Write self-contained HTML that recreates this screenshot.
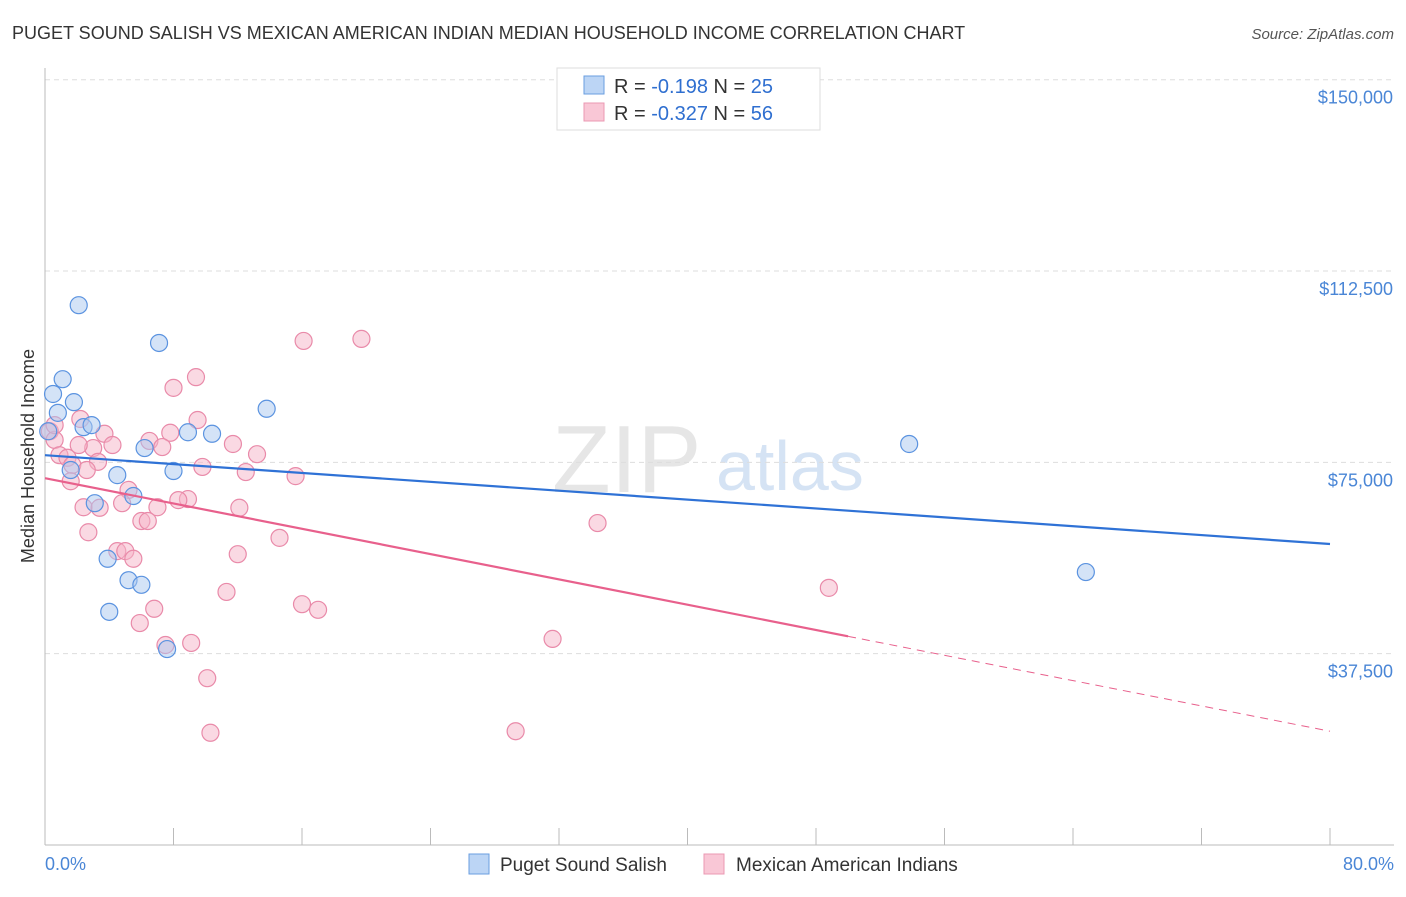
<!DOCTYPE html>
<html><head><meta charset="utf-8"><style>
body{margin:0;background:#fff;font-family:"Liberation Sans",sans-serif}
svg text{font-family:"Liberation Sans",sans-serif}
</style></head><body>
<svg id="chart" width="1406" height="892" xmlns="http://www.w3.org/2000/svg">
<text x="12" y="39" font-size="18" fill="#333">PUGET SOUND SALISH VS MEXICAN AMERICAN INDIAN MEDIAN HOUSEHOLD INCOME CORRELATION CHART</text>
<text x="1394" y="39" font-size="15" fill="#555" text-anchor="end" font-style="italic">Source: ZipAtlas.com</text>
<text x="552" y="492" font-size="96" fill="#e6e6e6" font-family="Liberation Serif">ZIP</text>
<text x="716" y="490" font-size="70" fill="#d5e3f4">atlas</text>
<g id="grid"></g>
<g id="axes"></g>
<g id="marks"></g>
<text transform="translate(34,456) rotate(-90)" font-size="18" fill="#333" text-anchor="middle">Median Household Income</text>
<text x="45" y="870" font-size="18" fill="#4a86d6">0.0%</text>
<text x="1394" y="870" font-size="18" fill="#4a86d6" text-anchor="end">80.0%</text>
<g>
<rect x="557" y="68" width="263" height="62" fill="#fff" stroke="#ddd"/>
<rect x="584" y="76" width="20" height="18" fill="#bcd5f5" stroke="#6a9ee0"/>
<rect x="584" y="103" width="20" height="18" fill="#f9c7d6" stroke="#eb98b3"/>
<text x="614" y="93" font-size="20" fill="#333">R = <tspan fill="#2f6fd0">-0.198</tspan>   N = <tspan fill="#2f6fd0">25</tspan></text>
<text x="614" y="120" font-size="20" fill="#333">R = <tspan fill="#2f6fd0">-0.327</tspan>   N = <tspan fill="#2f6fd0">56</tspan></text>
</g>
<g>
<rect x="469" y="854" width="20" height="20" fill="#bcd5f5" stroke="#6a9ee0"/>
<text x="500" y="871" font-size="19" fill="#333">Puget Sound Salish</text>
<rect x="704" y="854" width="20" height="20" fill="#f9c7d6" stroke="#eb98b3"/>
<text x="736" y="871" font-size="19" fill="#333">Mexican American Indians</text>
</g>
</svg>
<script>
const yTicks=[150000,112500,75000,37500];
const yTickLabels=["$150,000","$112,500","$75,000","$37,500"];
const blueX=[2.1,7.1,1.1,0.5,1.8,0.8,13.8,2.4,2.9,0.2,8.9,10.4,6.2,53.8,1.6,8.0,4.5,5.5,3.1,3.9,5.2,6.0,4.0,7.6,64.8];
const blueY=[105800,98400,91300,88400,86800,84700,85500,81900,82300,81100,80900,80600,77800,78600,73500,73300,72500,68400,67000,56100,51900,51000,45700,38400,53500];
const pinkX=[0.3,0.6,2.2,9.5,6.5,7.8,11.7,13.2,3.7,3.0,4.2,0.9,1.4,3.3,1.7,9.8,12.5,15.6,7.3,8.0,9.4,16.1,19.7,1.6,5.2,2.4,3.4,4.8,7.0,8.9,8.3,12.1,6.0,6.4,2.7,14.6,4.5,5.0,5.5,12.0,34.4,48.8,11.3,16.0,17.0,6.8,5.9,7.5,9.1,31.6,10.1,10.3,29.3,2.1,0.6,2.6];
const pinkY=[81100,79400,83500,83300,79200,80800,78600,76600,80600,77800,78400,76400,75900,75100,74500,74100,73100,72300,78000,89600,91700,98800,99200,71300,69600,66200,66100,67000,66200,67800,67600,66100,63500,63500,61300,60200,57600,57600,56100,57000,63100,50400,49600,47200,46100,46300,43500,39200,39600,40400,32700,22000,22300,78400,82300,73500];
const blueTrend=[76400,59000];
const pinkTrend=[71900,22300];
const pinkSolidEnd=50;
const NS="http://www.w3.org/2000/svg";
const X0=45,X1=1330,Y0=845;
function sx(v){return X0+(X1-X0)*v/80;}
function sy(v){return Y0-v*(845-79.7)/150000;}
function mk(t,a,p){const e=document.createElementNS(NS,t);for(const k in a)e.setAttribute(k,a[k]);p.appendChild(e);return e;}
const grid=document.getElementById('grid'),axes=document.getElementById('axes'),marks=document.getElementById('marks');
yTicks.forEach((t,i)=>{
  const l=mk('line',{x1:X0,x2:1394,y1:sy(t),y2:sy(t),stroke:'#ddd','stroke-dasharray':'5,4'},grid);
  
  
  const tx=mk('text',{x:1393,y:sy(t)+24,'font-size':18,fill:'#4a86d6','text-anchor':'end'},grid);
  tx.textContent=yTickLabels[i];
  
  
});
const ax=mk('line',{x1:X0,x2:X0,y1:68,y2:Y0,stroke:'#bbb'},axes);


const bx=mk('line',{x1:X0,x2:1394,y1:Y0,y2:Y0,stroke:'#bbb'},axes);


for(let v=0;v<=80;v+=8){
  const t=mk('line',{x1:sx(v),x2:sx(v),y1:828,y2:Y0,stroke:'#bbb'},axes);
  
  
}
function pts(xs,ys,fill,stroke,name){
  xs.forEach((x,i)=>{
    const c=mk('circle',{cx:sx(x),cy:sy(ys[i]),r:8.5,fill:fill,'fill-opacity':0.5,stroke:stroke,'stroke-width':1.2},marks);
    
    
  });
}
pts(pinkX,pinkY,'#f5b3c7','#e98aa9','mexican-american-point');
pts(blueX,blueY,'#a9c8f0','#5b93e0','puget-sound-point');
const bl=mk('line',{x1:sx(0),y1:sy(blueTrend[0]),x2:sx(80),y2:sy(blueTrend[1]),stroke:'#2f72d6','stroke-width':2.2},marks);


const pm=pinkTrend[0]+(pinkTrend[1]-pinkTrend[0])*pinkSolidEnd/80;
const pl=mk('line',{x1:sx(0),y1:sy(pinkTrend[0]),x2:sx(pinkSolidEnd),y2:sy(pm),stroke:'#e8608c','stroke-width':2.2},marks);


const pd=mk('line',{x1:sx(pinkSolidEnd),y1:sy(pm),x2:sx(80),y2:sy(pinkTrend[1]),stroke:'#e8608c','stroke-width':1,'stroke-dasharray':'8,6'},marks);


</script>
</body></html>
